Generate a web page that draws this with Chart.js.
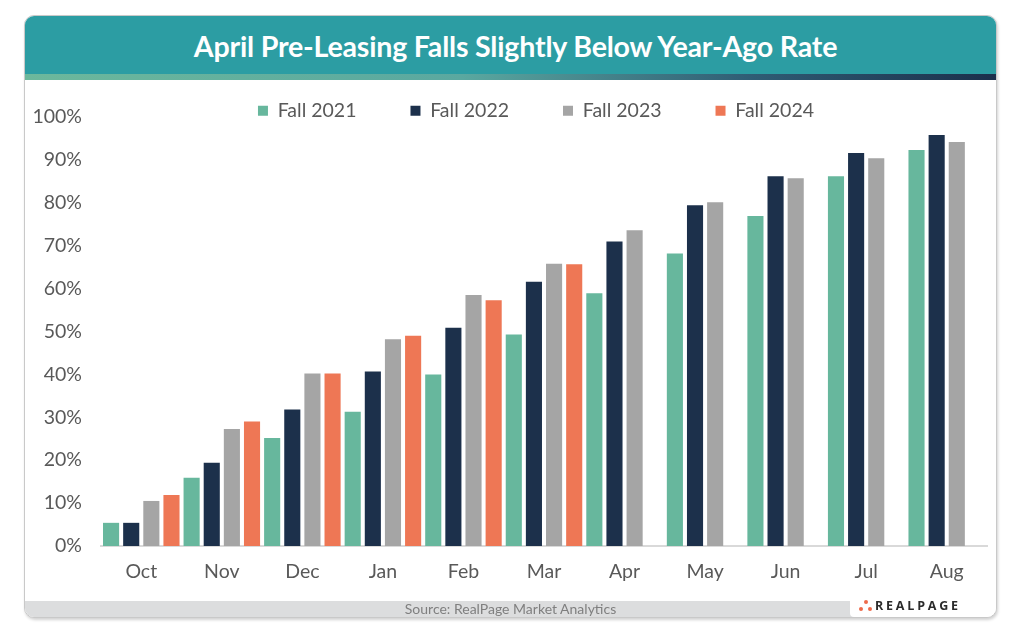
<!DOCTYPE html>
<html>
<head>
<meta charset="utf-8">
<script src="https://cdn.jsdelivr.net/npm/chart.js@4/dist/chart.umd.min.js"></script>
<style>
  html, body { margin: 0; padding: 0; background: #ffffff; width: 1020px; height: 633px; overflow: hidden; font-family: Lato, "Open Sans", sans-serif; }
  #card { position: absolute; left: 24px; top: 15px; width: 971px; height: 601px; border: 1.5px solid #c9c9c9; border-radius: 10px; box-shadow: 1px 2px 3px rgba(0,0,0,0.18); overflow: hidden; background: #fff; }
  #title { position: absolute; left: 0; top: 0; width: 961px; padding-left: 10px; height: 58px; background: #2c9da3; color: #fff; font-weight: 700; font-size: 28.6px; text-align: center; line-height: 60px; letter-spacing: -0.2px; }
  #stripe { position: absolute; left: 0; top: 58px; width: 100%; height: 6px; background: linear-gradient(90deg, #6cb89c 0%, #5aa8a0 45%, #2f5c74 75%, #1b2f4b 100%); }
  #chartwrap { position: absolute; left: 0; top: 64px; width: 971px; height: 521px; }
  #footer { position: absolute; left: 0; top: 585px; width: 100%; height: 16px; background: #dcddde; color: #7f7f7f; font-size: 14px; text-align: center; line-height: 16px; }
  #logo { position: absolute; right: 0; top: 577px; width: 146px; height: 24px; background: #fff; border-radius: 4px; }
  #logo .txt { position: absolute; left: 25px; top: 4px; font-size: 12.5px; font-weight: 700; letter-spacing: 2.8px; color: #2b2b2b; font-family: "Open Sans", Lato, sans-serif; }
  #logo .d { position: absolute; width: 4px; height: 4px; border-radius: 50%; background: #ee6a4a; }
</style>
</head>
<body>
<div id="card">
  <div id="title">April Pre-Leasing Falls Slightly Below Year-Ago Rate</div>
  <div id="stripe"></div>
  <div id="chartwrap"><canvas id="c" width="971" height="521"></canvas></div>
  <div id="footer">Source: RealPage Market Analytics</div>
  <div id="logo">
    <span class="d" style="left:14px;top:7px"></span>
    <span class="d" style="left:9px;top:14px"></span>
    <span class="d" style="left:18px;top:14px"></span>
    <span class="txt">REALPAGE</span>
  </div>
</div>
<script>
const months = ["Oct","Nov","Dec","Jan","Feb","Mar","Apr","May","Jun","Jul","Aug"];
const seriesNames = ["Fall 2021","Fall 2022","Fall 2023","Fall 2024"];
const fall2021 = [5.4, 15.9, 25.2, 31.3, 40.0, 49.3, 58.9, 68.2, 76.9, 86.2, 92.3];
const fall2022 = [5.4, 19.4, 31.8, 40.7, 50.9, 61.6, 71.0, 79.4, 86.2, 91.6, 95.8];
const fall2023 = [10.5, 27.3, 40.2, 48.2, 58.5, 65.8, 73.6, 80.1, 85.7, 90.4, 94.2];
const fall2024 = [11.9, 29.0, 40.2, 49.0, 57.3, 65.7, null, null, null, null, null];
const yTicks = [0, 10, 20, 30, 40, 50, 60, 70, 80, 90, 100];
const colors = ["#67b79d", "#1c304b", "#a5a5a5", "#ee7755"];

const LEGEND_PAD = 54;
const LEGEND_SHIFT_X = 30;
const legendLayoutPlugin = {
  id: 'legendLayout',
  beforeInit(chart) {
    const lg = chart.legend;
    const origFit = lg.fit;
    lg.fit = function () {
      origFit.call(this);
      this.height = 37;
    };
    const origDraw = lg.draw;
    lg.draw = function () {
      const t = this.top, b = this.bottom, l = this.left, r = this.right;
      this.top = t - LEGEND_PAD + 21;
      this.bottom = b + 40;
      this.left = l + LEGEND_SHIFT_X;
      this.right = r + LEGEND_SHIFT_X;
      origDraw.call(this);
      this.top = t; this.bottom = b; this.left = l; this.right = r;
    };
  }
};

const font = { family: "Lato, 'Open Sans', sans-serif", size: 19.5 };

new Chart(document.getElementById('c'), {
  type: 'bar',
  data: {
    labels: months,
    datasets: [fall2021, fall2022, fall2023, fall2024].map((d, i) => ({
      label: seriesNames[i],
      data: d,
      backgroundColor: colors[i],
      borderWidth: 0,
      categoryPercentage: 1.0,
      barPercentage: 0.8
    }))
  },
  options: {
    responsive: false,
    animation: false,
    devicePixelRatio: 1,
    layout: { padding: { left: 0, right: 9, top: 0, bottom: 0 } },
    plugins: {
      legend: {
        position: 'top',
        align: 'center',
        labels: {
          font: { family: font.family, size: 19.5 },
          color: '#595959',
          boxWidth: 10,
          boxHeight: 10,
          padding: LEGEND_PAD
        }
      },
      tooltip: { enabled: false }
    },
    scales: {
      x: {
        grid: { display: false, drawTicks: false },
        border: { display: true, color: '#d9d9d9', width: 2 },
        ticks: { font: font, color: '#595959', padding: 14 },
        afterFit(scale) { scale.height = 55; }
      },
      y: {
        min: 0,
        max: 100,
        afterBuildTicks(scale) { scale.ticks = yTicks.map(v => ({ value: v })); },
        grid: { display: false, drawTicks: false },
        border: { display: false },
        ticks: { font: font, color: '#595959', padding: 19, callback: v => v + '%' },
        afterFit(scale) { scale.width = 76; }
      }
    }
  },
  plugins: [legendLayoutPlugin]
});
</script>
</body>
</html>
